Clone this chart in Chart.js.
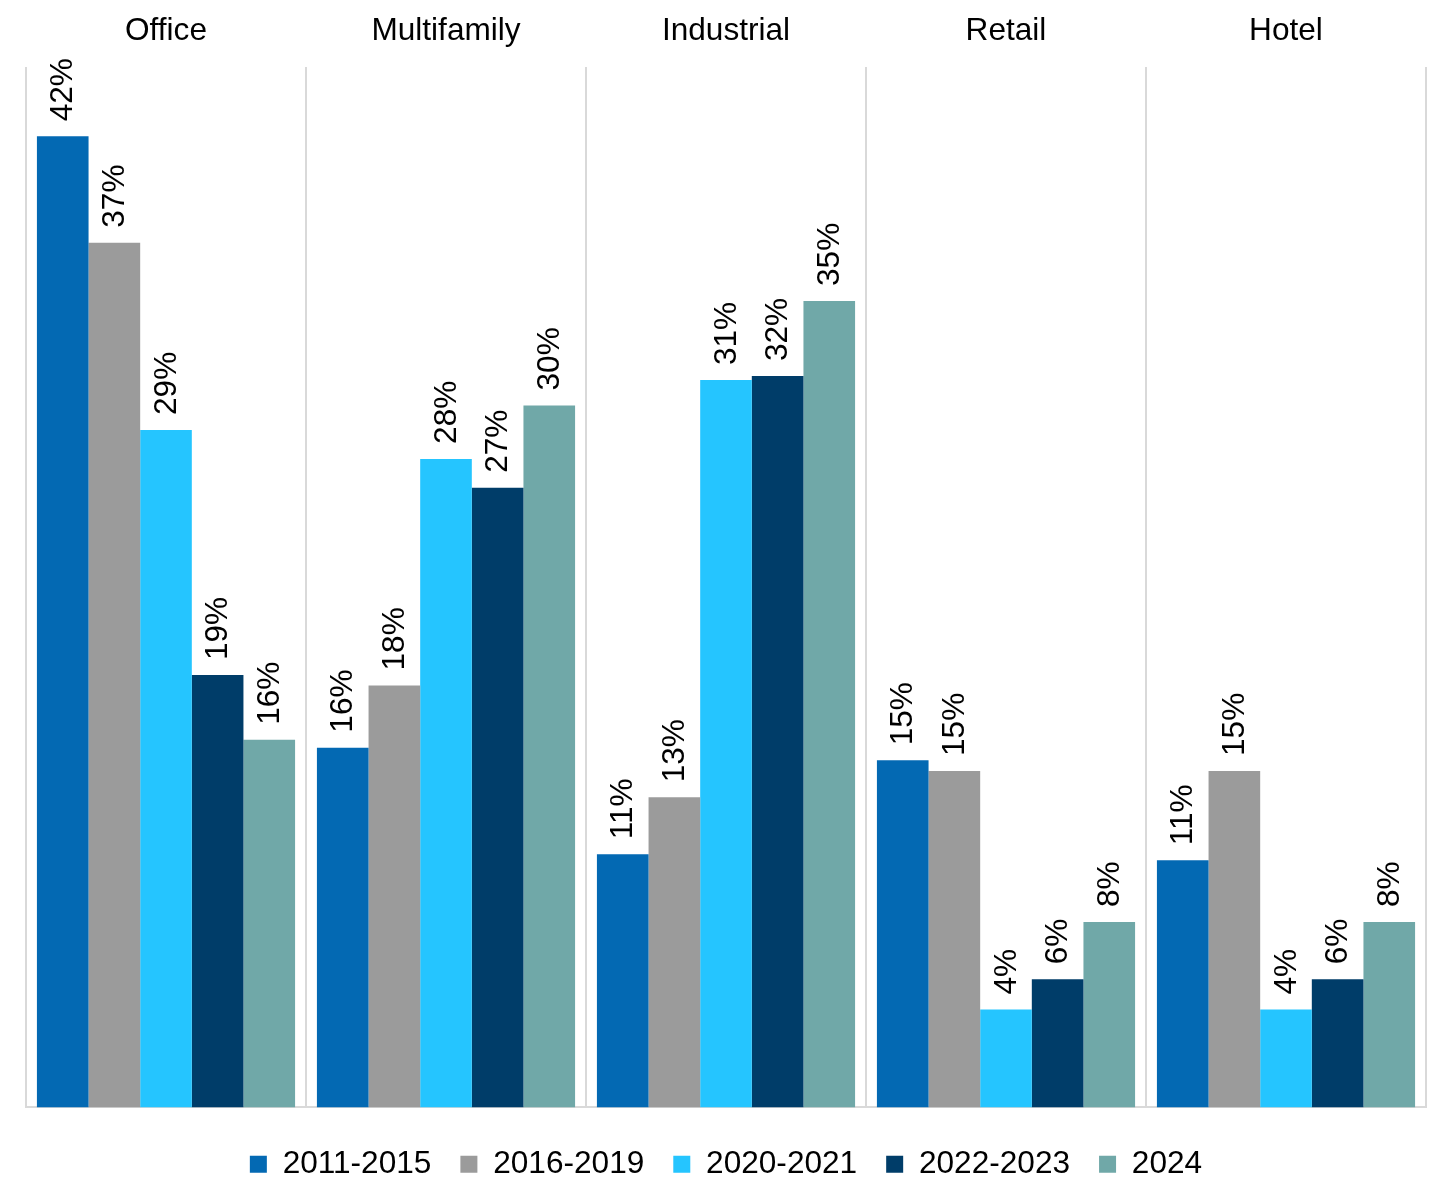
<!DOCTYPE html>
<html>
<head>
<meta charset="utf-8">
<script src="https://cdn.jsdelivr.net/npm/chart.js@4.4.1/dist/chart.umd.min.js"></script>
<style>
  html, body { margin: 0; padding: 0; background: #ffffff; }
  #wrap { width: 1439px; height: 1178px; }
</style>
</head>
<body>
<div id="wrap"><canvas id="chart" width="1439" height="1178"></canvas></div>
<script>
const categories = ['Office', 'Multifamily', 'Industrial', 'Retail', 'Hotel'];
const seriesNames = ['2011-2015', '2016-2019', '2020-2021', '2022-2023', '2024'];
const seriesColors = ['#0369B3', '#9B9B9B', '#25C5FF', '#003D69', '#70A8A8'];

// Share by property type (%)
const s2011_2015 = [42.0, 15.56, 10.95, 15.01, 10.69];
const s2016_2019 = [37.4, 18.25, 13.41, 14.55, 14.55];
const s2020_2021 = [29.3, 28.05, 31.46, 4.23, 4.23];
const s2022_2023 = [18.7, 26.8, 31.63, 5.54, 5.54];
const s2024 = [15.9, 30.36, 34.88, 8.02, 8.02];

const seriesValues = [s2011_2015, s2016_2019, s2020_2021, s2022_2023, s2024];

const FONT = '"Liberation Sans", Arial, sans-serif';
const FONT_SIZE = 31.6;

// Rotated % labels above each bar.
const barLabels = {
  id: 'barLabels',
  afterDatasetsDraw(chart) {
    const { ctx } = chart;
    ctx.save();
    ctx.font = `${FONT_SIZE}px ${FONT}`;
    ctx.fillStyle = '#000000';
    ctx.textAlign = 'left';
    ctx.textBaseline = 'middle';
    chart.data.datasets.forEach((ds, di) => {
      const meta = chart.getDatasetMeta(di);
      meta.data.forEach((bar, i) => {
        ctx.save();
        ctx.translate(bar.x + 1, bar.y - 15);
        ctx.rotate(-Math.PI / 2);
        ctx.fillText(Math.round(ds.data[i]) + '%', 0, 0);
        ctx.restore();
      });
    });
    ctx.restore();
  },
};

new Chart(document.getElementById('chart'), {
  type: 'bar',
  data: {
    labels: categories,
    datasets: seriesNames.map((name, i) => ({
      label: name,
      data: seriesValues[i],
      backgroundColor: seriesColors[i],
      borderWidth: 0,
      categoryPercentage: 0.922,
      barPercentage: 1.0,
    })),
  },
  options: {
    responsive: false,
    animation: false,
    layout: { padding: { left: 26, right: 13, top: 0, bottom: -12 } },
    plugins: {
      tooltip: { enabled: false },
      legend: {
        position: 'bottom',
        labels: {
          color: '#000000',
          boxWidth: 17,
          boxHeight: 17,
          padding: 29,
          font: { family: FONT, size: FONT_SIZE },
        },
      },
    },
    scales: {
      x: {
        position: 'bottom',
        offset: true,
        ticks: { display: false },
        grid: { offset: true, color: '#D9D9D9', lineWidth: 2, drawTicks: false },
        border: { display: true, color: '#D9D9D9', width: 2 },
        afterFit(scale) { scale.height = 12; },
      },
      x2: {
        type: 'category',
        position: 'top',
        labels: categories,
        offset: true,
        ticks: { color: '#000000', padding: 16.5, font: { family: FONT, size: FONT_SIZE } },
        grid: { display: false, drawTicks: false },
        border: { display: false },
        afterFit(scale) { scale.height = 67; },
      },
      y: {
        display: false,
        min: 0,
        max: 45,
      },
    },
  },
  plugins: [barLabels],
});
</script>
</body>
</html>
